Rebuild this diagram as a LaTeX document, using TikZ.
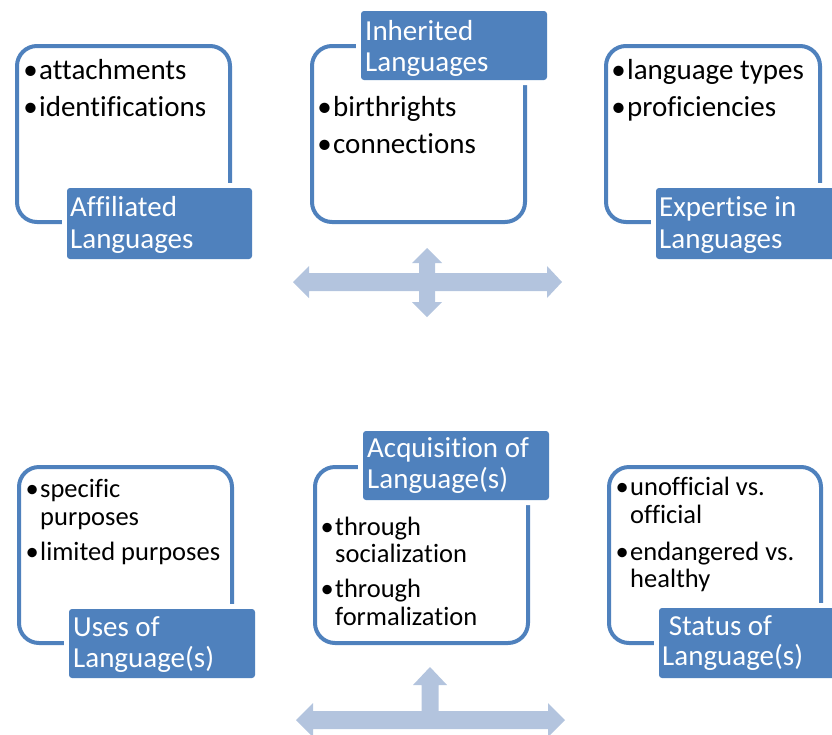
\documentclass[tikz,border=0pt]{standalone}
\usepackage{fontspec}
\setmainfont{Carlito}[Ligatures=NoCommon]
\definecolor{frameblue}{HTML}{4F81BD}
\definecolor{tagblue}{HTML}{4F81BD}
\definecolor{flowblue}{HTML}{B3C4DE}
\tikzset{
  x=1pt, y=-1pt,
  frame/.style={draw=frameblue, line width=4pt, rounded corners=20pt, inner sep=0pt},
  tag/.style={fill=tagblue, rounded corners=3pt, preaction={draw=white, line width=10pt, rounded corners=3pt}, inner sep=0pt},
  tagtext/.style={text=white, font=\fontsize{29}{32}\selectfont, anchor=base west, inner sep=0pt},
  itembig/.style={font=\fontsize{29}{32}\selectfont, anchor=base west, inner sep=0pt},
  itemsmall/.style={font=\fontsize{26.5}{28}\selectfont, anchor=base west, inner sep=0pt},
  flow/.style={fill=flowblue, draw=none},
}
\newcommand{\bul}{\llap{\textbullet\kern1.5pt}}
\begin{document}
\begin{tikzpicture}
\useasboundingbox (0,0) rectangle (832,734);
\clip (0,0) rectangle (832,734);

% ---------- top row frames ----------
\node[frame, minimum width=213pt, minimum height=176pt] (fA) at (123.5,134) {};
\node[frame, minimum width=213pt, minimum height=176pt] (fI) at (418.5,134) {};
\node[frame, minimum width=214pt, minimum height=176pt] (fE) at (713,134) {};

% ---------- bottom row frames ----------
\node[frame, minimum width=213pt, minimum height=176pt] (fU) at (125.5,555) {};
\node[frame, minimum width=213pt, minimum height=176pt] (fQ) at (421.5,555) {};
\node[frame, minimum width=212pt, minimum height=176pt] (fS) at (715,555) {};

% ---------- title tags ----------
\node[tag, minimum width=185pt, minimum height=71pt] (gA) at (159.5,223.5) {};
\node[tag, minimum width=186pt, minimum height=69pt] (gI) at (454,45.5) {};
\node[tag, minimum width=186pt, minimum height=71pt] (gE) at (749,223.5) {};
\node[tag, minimum width=186pt, minimum height=69pt] (gU) at (162,643.5) {};
\node[tag, minimum width=186pt, minimum height=69pt] (gQ) at (456,465.5) {};
\node[tag, minimum width=186pt, minimum height=70pt] (gS) at (752,643) {};

% ---------- tag texts ----------
\node[tagtext] (hA1) at (70,216) {Affiliated};
\node[tagtext] (hA2) at (70,248) {Languages};
\node[tagtext] (hI1) at (365,40) {Inherited};
\node[tagtext] (hI2) at (365,71) {Languages};
\node[tagtext] (hE1) at (659,216) {Expertise in};
\node[tagtext] (hE2) at (659,248) {Languages};
\node[tagtext] (hU1) at (73,636) {Uses of};
\node[tagtext] (hU2) at (73,667) {Language(s)};
\node[tagtext] (hQ1) at (367,457) {Acquisition of};
\node[tagtext] (hQ2) at (367,488) {Language(s)};
\node[tagtext] (hS1) at (662,635) {\ Status of};
\node[tagtext] (hS2) at (662,665) {Language(s)};

% ---------- bullet items, top row ----------
\node[itembig] (iA1) at (39,79)  {\bul attachments};
\node[itembig] (iA2) at (39,116) {\bul identifications};
\node[itembig] (iI1) at (333,116) {\bul birthrights};
\node[itembig] (iI2) at (333,153) {\bul connections};
\node[itembig] (iE1) at (627,79)  {\bul language types};
\node[itembig] (iE2) at (627,116) {\bul proficiencies};

% ---------- bullet items, bottom row ----------
\node[itemsmall] (iU1) at (40,497) {\bul specific};
\node[itemsmall] (iU2) at (40,525) {purposes};
\node[itemsmall] (iU3) at (40,560) {\bul limited purposes};
\node[itemsmall] (iQ1) at (335,535) {\bul through};
\node[itemsmall] (iQ2) at (335,562) {socialization};
\node[itemsmall] (iQ3) at (335,597) {\bul through};
\node[itemsmall] (iQ4) at (335,625) {formalization};
\node[itemsmall] (iS1) at (630,495) {\bul unofficial vs.};
\node[itemsmall] (iS2) at (630,523) {official};
\node[itemsmall] (iS3) at (630,560) {\bul endangered vs.};
\node[itemsmall] (iS4) at (630,587) {healthy};

% ---------- top block arrows (four-way cross) ----------
\fill[flow] (293,282) -- (309,266) -- (309,273) -- (547,273) -- (547,266)
  -- (562,282) -- (547,298) -- (547,291) -- (309,291) -- (309,298) -- cycle;
\fill[flow] (427,248) -- (442,263) -- (435,263) -- (435,302) -- (442,302)
  -- (427,317) -- (412,302) -- (419,302) -- (419,263) -- (412,263) -- cycle;

% ---------- bottom block arrows (T shape) ----------
\fill[flow] (296,720) -- (313,703) -- (313,711) -- (548,711) -- (548,703)
  -- (565,720) -- (548,737) -- (548,729) -- (313,729) -- (313,737) -- cycle;
\fill[flow] (430,667) -- (447,685) -- (438.5,685) -- (438.5,715) -- (421.5,715)
  -- (421.5,685) -- (413,685) -- cycle;
\end{tikzpicture}
\end{document}
